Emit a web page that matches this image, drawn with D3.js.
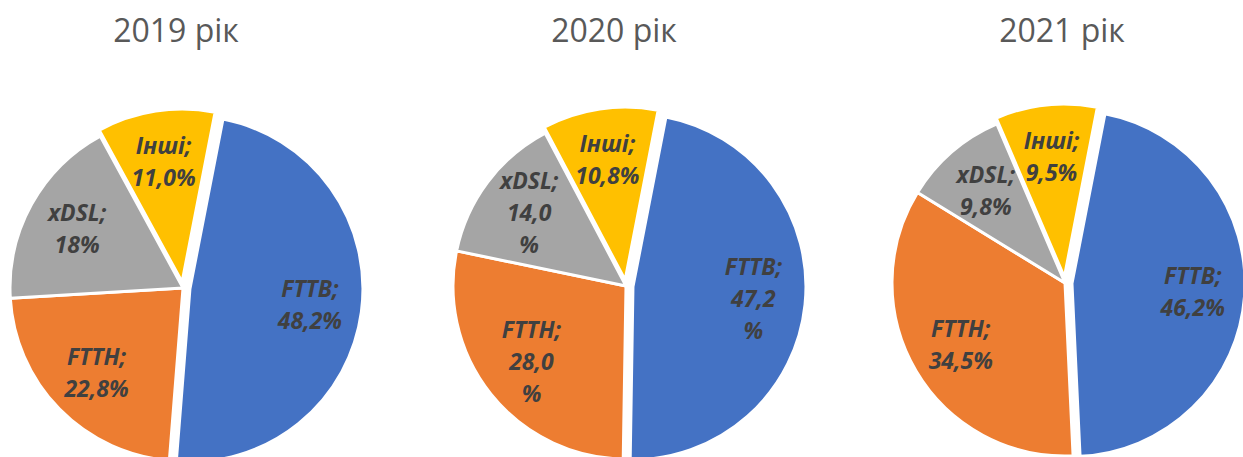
<!DOCTYPE html>
<html>
<head>
<meta charset="utf-8">
<script src="https://cdn.jsdelivr.net/npm/d3@7"></script>
<style>
  html, body { margin: 0; padding: 0; background: #fff; }
  svg { display: block; }
</style>
</head>
<body>
<div id="chart"></div>
<script>
// data
var years = ["2019 рік", "2020 рік", "2021 рік"];
var categories = ["FTTB", "FTTH", "xDSL", "Інші"];
var colors = ["#4472c4", "#ed7d31", "#a5a5a5", "#ffc000"];

var values2019 = [48.2, 22.8, 18, 11.0];
var values2020 = [47.2, 28.0, 14.0, 10.8];
var values2021 = [46.2, 34.5, 9.8, 9.5];

var labels2019 = ["48,2%", "22,8%", "18%", "11,0%"];
var labels2020 = ["47,2%", "28,0%", "14,0%", "10,8%"];
var labels2021 = ["46,2%", "34,5%", "9,8%", "9,5%"];

// in 2020 Excel wrapped the % sign onto its own line for these
var splitPct2020 = ["FTTB", "FTTH", "xDSL"];

var width = 1243,
  height = 457;

var svg = d3
  .select("#chart")
  .append("svg")
  .attr("width", width)
  .attr("height", height);

// layout
var centers = [
  { x: 183, y: 288 },
  { x: 626, y: 286 },
  { x: 1065, y: 283 }
];
var titleX = [176, 614, 1062];
var radius = 173;
var explode = { FTTB: 7, "Інші": 6 };

var pie = d3
  .pie()
  .sort(null)
  .startAngle((11 * Math.PI) / 180)
  .endAngle((11 * Math.PI) / 180 + 2 * Math.PI);

var arc = d3.arc().innerRadius(0).outerRadius(radius);
var labelArc = d3
  .arc()
  .innerRadius(radius * 0.7)
  .outerRadius(radius * 0.7);

var datasets = [
  { values: values2019, labels: labels2019, split: [] },
  { values: values2020, labels: labels2020, split: splitPct2020 },
  { values: values2021, labels: labels2021, split: [] }
];

datasets.forEach(function (ds, i) {
  // title
  svg
    .append("text")
    .attr("x", titleX[i])
    .attr("y", 42)
    .attr("text-anchor", "middle")
    .style("font-family", "'Open Sans', sans-serif")
    .style("font-size", "32px")
    .style("fill", "#595959")
    .text(years[i]);

  var g = svg
    .append("g")
    .attr("transform", "translate(" + centers[i].x + "," + centers[i].y + ")");

  var arcs = pie(ds.values).map(function (d, j) {
    d.cat = categories[j];
    d.label = ds.labels[j];
    var off = explode[d.cat] || 0;
    var mid = (d.startAngle + d.endAngle) / 2;
    d.dx = Math.sin(mid) * off;
    d.dy = -Math.cos(mid) * off;
    return d;
  });

  var slice = g
    .selectAll(".slice")
    .data(arcs)
    .enter()
    .append("g")
    .attr("class", "slice")
    .attr("transform", function (d) {
      return "translate(" + d.dx + "," + d.dy + ")";
    });

  slice
    .append("path")
    .attr("d", arc)
    .attr("fill", function (d, j) {
      return colors[j];
    })
    .attr("stroke", "#fff")
    .attr("stroke-width", 3)
    .attr("stroke-linejoin", "round");

  // labels
  slice.each(function (d) {
    var lines;
    if (ds.split.indexOf(d.cat) >= 0) {
      lines = [d.cat + ";", d.label.replace("%", ""), "%"];
    } else {
      lines = [d.cat + ";", d.label];
    }
    var c = labelArc.centroid(d);
    var lh = 32;
    var t = d3
      .select(this)
      .append("text")
      .attr("text-anchor", "middle")
      .style("font-family", "'Open Sans', sans-serif")
      .style("font-size", "23px")
      .style("font-weight", "bold")
      .style("font-style", "italic")
      .style("fill", "#404040");
    lines.forEach(function (ln, k) {
      t.append("tspan")
        .attr("x", c[0])
        .attr("y", c[1] + (k - (lines.length - 1) / 2) * lh + 8)
        .text(ln);
    });
  });
});
</script>
</body>
</html>
